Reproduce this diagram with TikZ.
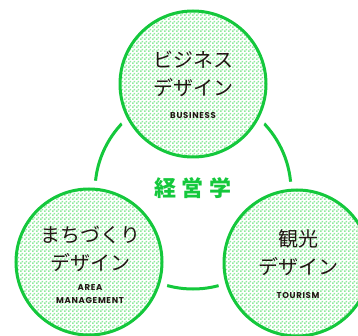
\documentclass[tikz,border=0pt]{standalone}
\usepackage{fontspec}
\newfontfamily\jpfont{Noto Sans CJK JP}
\newfontfamily\enfont{Poppins}[LetterSpace=8]
\usetikzlibrary{patterns.meta}
\definecolor{ringgreen}{HTML}{14C83C}
\definecolor{dotgreen}{HTML}{8EEA9C}
\definecolor{inkgray}{HTML}{231815}
\tikzdeclarepattern{
  name=checks,
  type=uncolored,
  bottom left={(0pt,0pt)},
  top right={(4pt,4pt)},
  tile size={(4pt,4pt)},
  code={
    \fill (0pt,0pt) rectangle (2pt,2pt);
    \fill (2pt,2pt) rectangle (4pt,4pt);
  }
}

\begin{document}
\begin{tikzpicture}[x=1pt,y=-1pt]
    \tikzstyle{ring}=[draw=ringgreen,line width=3pt]
    \tikzstyle{topic}=[circle,minimum size=146pt,inner sep=0pt,
        preaction={draw=white,line width=17pt,fill=white},
        pattern={checks},pattern color=dotgreen,draw=ringgreen,line width=3pt]
    \tikzstyle{jp}=[align=center,text=inkgray,font=\jpfont\fontsize{20}{28}\selectfont]
    \tikzstyle{tag}=[align=center,text=inkgray,font=\enfont\bfseries\fontsize{8.5}{13}\selectfont]
    \useasboundingbox (0,0) rectangle (358,336);
    \clip (0,0) rectangle (358,336);
    \coordinate (hub) at (193,191);
    \draw[ring] (hub) circle (98);
    \node[topic] (biz) at (193,84) {};
    \node[topic] (area) at (89,262) {};
    \node[topic] (tour) at (297,263) {};
    \node[jp] (bizjp) at (193,74) {ビジネス\\デザイン};
    \node[tag] (biztag) at (193,116) {BUSINESS};
    \node[jp] (areajp) at (90,249) {まちづくり\\デザイン};
    \node[tag] (areatag) at (90,294) {AREA\\MANAGEMENT};
    \node[jp] (tourjp) at (298,253) {観光\\デザイン};
    \node[tag] (tourtag) at (298,296) {TOURISM};
    \node[text=ringgreen,font=\jpfont\bfseries\fontsize{22}{26}\selectfont] (core) at (193,188) {経\hspace{6pt}営\hspace{6pt}学};
\end{tikzpicture}
\end{document}
